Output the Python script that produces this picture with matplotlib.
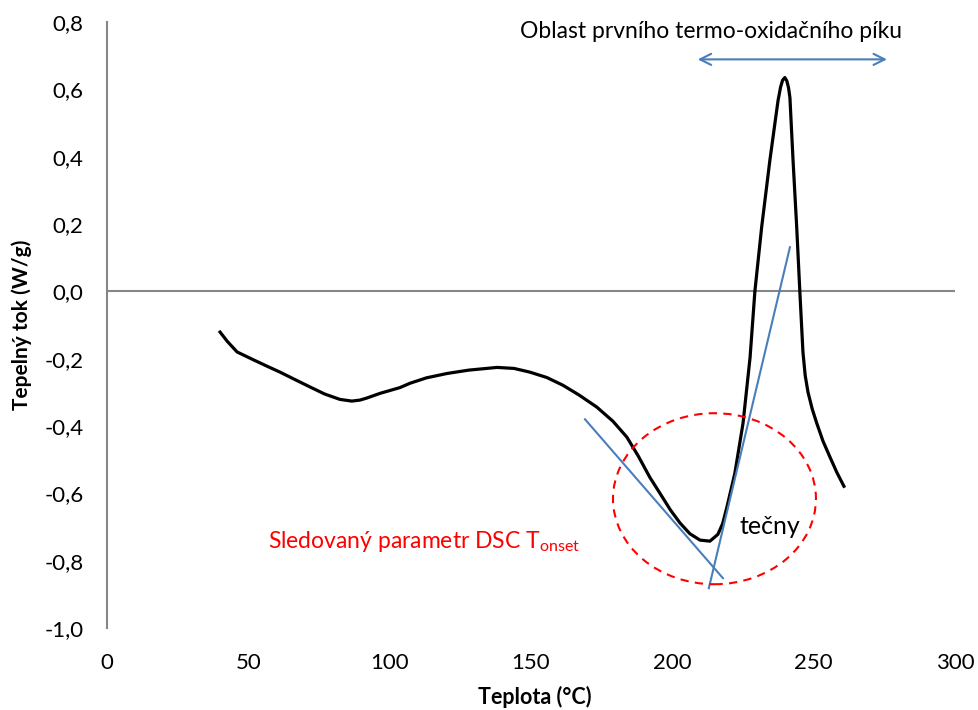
import numpy as np
import matplotlib.pyplot as plt
from matplotlib.patches import Ellipse

plt.rcParams['font.family'] = ['Lato', 'DejaVu Sans']

# DSC curve: temperature (°C) vs heat flow (W/g)
teplota = [40, 42.5, 46, 51.7, 56, 61.2, 66, 71.8, 77, 82.4, 86.6, 89.5, 91.9,
           96.6, 103.6, 107.2, 113, 120.3, 128, 138, 144, 149.6, 155.6, 161.3,
           167, 173.3, 179, 183.9, 188, 192, 196, 199.2, 202.7, 206.2, 209.8,
           213.3, 216.1, 217.8, 219.3, 222.1, 225, 227.5, 229.2, 231.6, 234.5,
           236.3, 237.4, 238.3, 239.0, 239.8, 240.5, 241.1, 241.6, 242.1, 242.7,
           244, 245.1, 246.2, 247.0, 248, 249.5, 251.1, 253.3, 255.8, 258.2,
           260.7]
tok = [-0.121, -0.148, -0.180, -0.203, -0.220, -0.240, -0.260, -0.284, -0.305,
       -0.321, -0.326, -0.323, -0.317, -0.303, -0.286, -0.273, -0.257, -0.244,
       -0.234, -0.226, -0.229, -0.240, -0.256, -0.279, -0.308, -0.344, -0.386,
       -0.433, -0.490, -0.552, -0.605, -0.648, -0.688, -0.720, -0.739, -0.742,
       -0.722, -0.690, -0.641, -0.541, -0.392, -0.196, 0.0, 0.191, 0.389,
       0.500, 0.567, 0.607, 0.627, 0.635, 0.625, 0.605, 0.575, 0.490, 0.389,
       0.190, 0.0, -0.180, -0.250, -0.300, -0.350, -0.392, -0.445, -0.493,
       -0.538, -0.579]

# tangent lines used for T_onset
tecna1_x = [169.1, 217.9]
tecna1_y = [-0.380, -0.852]
tecna2_x = [212.9, 241.6]
tecna2_y = [-0.882, 0.131]

x_ticks = [0, 50, 100, 150, 200, 250, 300]
y_ticks = [-1.0, -0.8, -0.6, -0.4, -0.2, 0.0, 0.2, 0.4, 0.6, 0.8]

fig = plt.figure(figsize=(9.79, 7.10), dpi=100)
ax = fig.add_axes([0.1093, 0.1155, 0.8662, 0.8535])

ax.axhline(0, color='#868686', lw=1.5, zorder=1)
ax.plot(teplota, tok, color='black', lw=2.3, solid_joinstyle='round', zorder=3)
ax.plot(tecna1_x, tecna1_y, color='#4a7ebb', lw=1.5, zorder=4)
ax.plot(tecna2_x, tecna2_y, color='#4a7ebb', lw=1.5, zorder=4)

ax.add_patch(Ellipse((214.9, -0.616), 71.8, 0.508, fill=False, ec='red',
                     lw=1.5, ls=(0, (4, 3)), zorder=5))

ax.annotate('', xy=(208, 0.689), xytext=(276.9, 0.689),
            arrowprops=dict(arrowstyle='<->,head_length=0.8,head_width=0.4',
                            color='#4a7ebb', lw=1.5))
ax.text(213.7, 0.772, 'Oblast prvního termo-oxidačního píku', ha='center',
        va='center', fontsize=16.5)
ax.text(234.5, -0.70, 'tečny', ha='center', va='center', fontsize=18)
ax.text(57, -0.742, r'Sledovaný parametr DSC T$_{\mathregular{onset}}$',
        ha='left', va='center', fontsize=16.5, color='red')

ax.set_xlim(0, 300)
ax.set_ylim(-1.0, 0.8)
ax.set_xticks(x_ticks)
ax.set_yticks(y_ticks)
ax.set_xticklabels([str(t) for t in x_ticks])
ax.set_yticklabels([f'{t:.1f}'.replace('.', ',') for t in y_ticks])
ax.tick_params(axis='both', length=0, labelsize=16)
ax.tick_params(axis='x', pad=18)
ax.tick_params(axis='y', pad=17)

for s in ['top', 'right', 'bottom']:
    ax.spines[s].set_visible(False)
ax.spines['left'].set_color('#868686')
ax.spines['left'].set_linewidth(1.5)

fig.text(0.5465, 0.018, 'Teplota (°C)', ha='center', va='center',
         fontsize=15.5, fontweight='bold')
fig.text(0.022, 0.542, 'Tepelný tok (W/g)', ha='center', va='center',
         fontsize=15, fontweight='bold', rotation=90)

fig.savefig('out.png', dpi=100)
